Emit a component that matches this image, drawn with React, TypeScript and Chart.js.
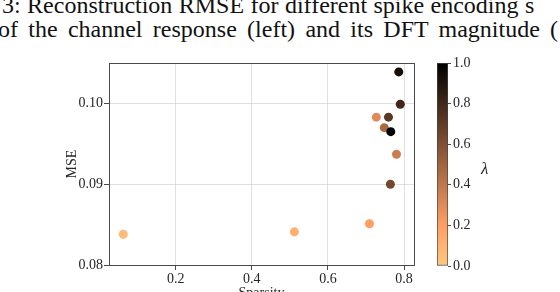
import React, { useEffect, useRef } from "react";
import { Chart, registerables } from "chart.js";

Chart.register(...registerables);

const sparsity = [0.786, 0.79, 0.727, 0.759, 0.748, 0.765, 0.78, 0.764, 0.709, 0.512, 0.0625];
const mse = [0.1039, 0.0999, 0.0983, 0.0983, 0.097, 0.0965, 0.0937, 0.09, 0.0851, 0.0841, 0.0838];
const lambda = [0.93, 0.8, 0.3, 0.72, 0.47, 1.0, 0.37, 0.64, 0.2, 0.12, 0.06];
const xTicks = [0.2, 0.4, 0.6, 0.8];
const yTicks = [0.08, 0.09, 0.1];
const cbTicks = [0, 0.2, 0.4, 0.6, 0.8, 1.0];
const titleLines = [
  "3: Reconstruction RMSE for different spike encoding s",
  "of the channel response (left) and its DFT magnitude (",
];

function copperR(l: number): string {
  const x = 1 - l;
  const r = Math.min(1, 1.25 * x);
  const g = 0.7812 * x;
  const b = 0.4975 * x;
  return `rgb(${Math.round(r * 255)},${Math.round(g * 255)},${Math.round(b * 255)})`;
}

const FONT = "'Liberation Serif', 'DejaVu Serif', serif";
const TXT = "#262626";
const GRID = "rgba(200,200,200,0.55)";
const AX = "#4a4a4a";

const framePlugin = {
  id: "frame",
  afterDraw(chart: any) {
    const { ctx, chartArea } = chart;
    ctx.save();
    ctx.strokeStyle = AX;
    ctx.lineWidth = 1;
    ctx.strokeRect(chartArea.left + 0.5, chartArea.top + 0.5, chartArea.right - chartArea.left, chartArea.bottom - chartArea.top);
    ctx.restore();
  },
};

export default function App() {
  const mainRef = useRef<HTMLCanvasElement>(null);
  const cbRef = useRef<HTMLCanvasElement>(null);

  useEffect(() => {
    const main = new Chart(mainRef.current!, {
      type: "scatter",
      data: {
        datasets: [
          {
            data: sparsity.map((x, i) => ({ x, y: mse[i] })),
            pointBackgroundColor: lambda.map(copperR),
            pointBorderWidth: 0,
            pointRadius: 4.5,
            pointHoverRadius: 4.5,
          },
        ],
      },
      options: {
        animation: false,
        responsive: false,
        events: [],
        layout: { padding: { left: 64, top: 63, right: 146, bottom: 0 } },
        plugins: { legend: { display: false }, tooltip: { enabled: false } },
        scales: {
          x: {
            type: "linear",
            min: 0.025,
            max: 0.826,
            z: 1,
            afterBuildTicks: (s: any) => {
              s.ticks = xTicks.map((v) => ({ value: v }));
            },
            afterFit: (s: any) => {
              s.height = 45;
            },
            ticks: {
              color: TXT,
              font: { family: FONT, size: 14 },
              padding: 1,
              maxRotation: 0,
              callback: (v: any) => Number(v).toFixed(1),
            },
            grid: { color: GRID, tickColor: AX, tickLength: 5 },
            border: { color: AX },
            title: {
              display: true,
              text: "Sparsity",
              color: TXT,
              font: { family: FONT, size: 14 },
              padding: { top: 4, bottom: 8 },
            },
          },
          y: {
            type: "linear",
            min: 0.08,
            max: 0.105,
            z: 1,
            afterBuildTicks: (s: any) => {
              s.ticks = yTicks.map((v) => ({ value: v }));
            },
            afterFit: (s: any) => {
              s.width = 45;
            },
            ticks: {
              color: TXT,
              font: { family: FONT, size: 14 },
              padding: 1,
              callback: (v: any) => Number(v).toFixed(2),
            },
            grid: { color: GRID, tickColor: AX, tickLength: 5 },
            border: { color: AX },
            title: {
              display: true,
              text: "MSE",
              color: TXT,
              font: { family: FONT, size: 14 },
              padding: { top: 0, bottom: 0 },
            },
          },
        },
      },
      plugins: [framePlugin],
    });

    const cb = new Chart(cbRef.current!, {
      type: "bar",
      data: {
        labels: ["λ"],
        datasets: [
          {
            data: [1],
            base: 0,
            barPercentage: 1,
            categoryPercentage: 1,
            borderColor: "#444",
            borderWidth: 1,
            borderSkipped: false,
            backgroundColor: (c: any) => {
              const area = c.chart.chartArea;
              if (!area) return copperR(0.5);
              const g = c.chart.ctx.createLinearGradient(0, area.bottom, 0, area.top);
              for (let i = 0; i <= 10; i++) g.addColorStop(i / 10, copperR(i / 10));
              return g;
            },
          },
        ],
      },
      options: {
        animation: false,
        responsive: false,
        events: [],
        layout: { padding: { left: 17, top: 63, right: 0, bottom: 26 } },
        plugins: { legend: { display: false }, tooltip: { enabled: false } },
        scales: {
          x: { display: false },
          y: {
            position: "right",
            min: 0,
            max: 1,
            afterBuildTicks: (s: any) => {
              s.ticks = cbTicks.map((v) => ({ value: v }));
            },
            afterFit: (s: any) => {
              s.width = 72;
            },
            ticks: {
              color: TXT,
              font: { family: FONT, size: 14 },
              padding: 2,
              callback: (v: any) => Number(v).toFixed(1),
            },
            grid: { drawOnChartArea: false, tickColor: AX, tickLength: 3 },
            border: { display: false },
          },
        },
      },
    });

    return () => {
      main.destroy();
      cb.destroy();
    };
  }, []);

  return (
    <div style={{ position: "fixed", left: 0, top: 0, width: 560, height: 292, overflow: "hidden", background: "#fff" }}>
      <div
        style={{
          position: "absolute",
          left: 0,
          top: -7,
          width: 700,
          fontFamily: FONT,
          fontSize: 24,
          lineHeight: "24px",
          color: "#111",
          whiteSpace: "nowrap",
        }}
      >
        <div style={{ marginLeft: 2, wordSpacing: "0.4px" }}>{titleLines[0]}</div>
        <div style={{ marginLeft: -2, wordSpacing: "4.3px" }}>{titleLines[1]}</div>
      </div>
      <canvas ref={mainRef} width={560} height={310} style={{ position: "absolute", left: 0, top: 0, width: 560, height: 310 }} />
      <canvas ref={cbRef} width={100} height={292} style={{ position: "absolute", left: 420, top: 0, width: 100, height: 292 }} />
      <div
        style={{
          position: "absolute",
          left: 481,
          top: 159,
          fontFamily: FONT,
          fontStyle: "italic",
          fontSize: 17,
          color: TXT,
        }}
      >
        λ
      </div>
    </div>
  );
}
